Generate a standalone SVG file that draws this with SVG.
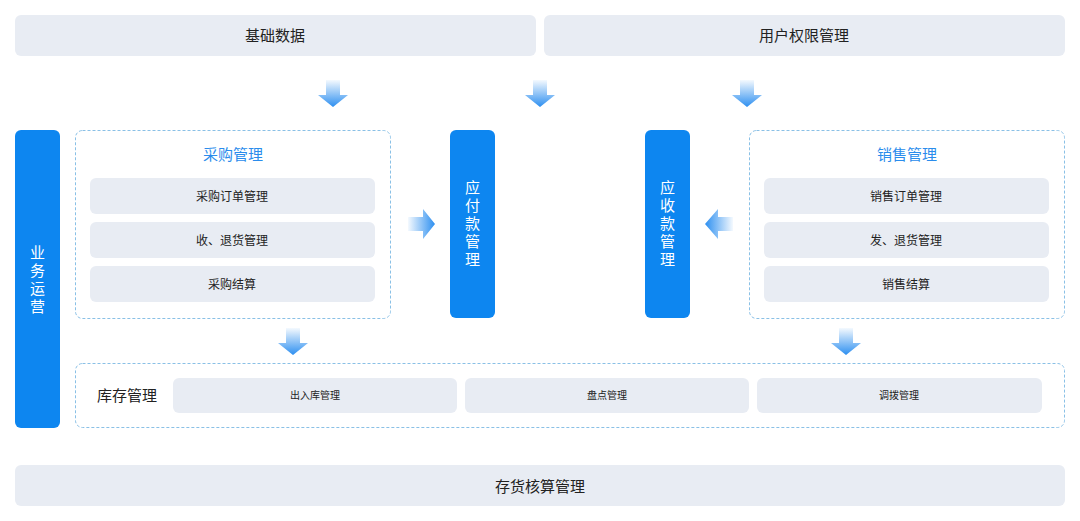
<svg xmlns="http://www.w3.org/2000/svg" width="1080" height="521" viewBox="0 0 1080 521">
<defs>
<linearGradient id="gd" x1="0" y1="0" x2="0" y2="1"><stop offset="0" stop-color="#2d8ff0" stop-opacity="0.05"/><stop offset="1" stop-color="#2d8ff0"/></linearGradient>
<linearGradient id="gr" x1="0" y1="0" x2="1" y2="0"><stop offset="0" stop-color="#2d8ff0" stop-opacity="0.05"/><stop offset="1" stop-color="#2d8ff0"/></linearGradient>
<linearGradient id="gl" x1="1" y1="0" x2="0" y2="0"><stop offset="0" stop-color="#2d8ff0" stop-opacity="0.05"/><stop offset="1" stop-color="#2d8ff0"/></linearGradient>
<path id="ad" d="M-7,-27 H7 V-12 H15 L0,0 L-15,-12 H-7 Z"/>
</defs>
<style>
text{font-family:"Noto Sans CJK SC","Liberation Sans",sans-serif;text-anchor:middle;dominant-baseline:central}
.g{fill:#e8ecf3}
.b{fill:#0d86f0}
.d{fill:#fff;stroke:#8ac0e6;stroke-width:1;stroke-dasharray:3 2}
.t15{font-size:15px;fill:#222}
.t12{font-size:12px;fill:#222}
.t10{font-size:10px;fill:#222}
.tb{font-size:15px;fill:#2a8cec}
.tw{font-size:15px;fill:#fff;writing-mode:vertical-rl;letter-spacing:3px}
</style>
<rect width="1080" height="521" fill="#fff"/>
<g id="base"><rect class="g" x="15" y="15" width="521" height="41" rx="6"/><text class="t15" x="275" y="34">基础数据</text></g>
<g id="perm"><rect class="g" x="544" y="15" width="521" height="41" rx="6"/><text class="t15" x="804" y="34">用户权限管理</text></g>
<g id="ops"><rect class="b" x="15" y="130" width="45" height="298" rx="6"/>
<text class="tw" x="37.5" y="281">业务运营</text></g>
<g id="purchase"><rect class="d" x="75.5" y="130.5" width="315" height="188" rx="7"/>
<text class="tb" x="233" y="153">采购管理</text>
<rect class="g" x="90" y="178" width="285" height="36" rx="6"/><text class="t12" x="232" y="195">采购订单管理</text>
<rect class="g" x="90" y="222" width="285" height="36" rx="6"/><text class="t12" x="232" y="239">收、退货管理</text>
<rect class="g" x="90" y="266" width="285" height="36" rx="6"/><text class="t12" x="232" y="283">采购结算</text></g>
<g id="ap"><rect class="b" x="450" y="130" width="45" height="188" rx="6"/>
<text class="tw" x="472.5" y="225">应付款管理</text></g>
<g id="ar"><rect class="b" x="645" y="130" width="45" height="188" rx="6"/>
<text class="tw" x="667.5" y="225">应收款管理</text></g>
<g id="sales"><rect class="d" x="749.5" y="130.5" width="315" height="188" rx="7"/>
<text class="tb" x="907" y="153">销售管理</text>
<rect class="g" x="764" y="178" width="285" height="36" rx="6"/><text class="t12" x="906" y="195">销售订单管理</text>
<rect class="g" x="764" y="222" width="285" height="36" rx="6"/><text class="t12" x="906" y="239">发、退货管理</text>
<rect class="g" x="764" y="266" width="285" height="36" rx="6"/><text class="t12" x="906" y="283">销售结算</text></g>
<g id="inventory"><rect class="d" x="75.5" y="363.5" width="989" height="64" rx="7"/>
<text class="t15" x="127" y="394">库存管理</text>
<rect class="g" x="173" y="378" width="284" height="35" rx="6"/><text class="t10" x="315" y="394.5">出入库管理</text>
<rect class="g" x="465" y="378" width="284" height="35" rx="6"/><text class="t10" x="607" y="394.5">盘点管理</text>
<rect class="g" x="757" y="378" width="285" height="35" rx="6"/><text class="t10" x="899" y="394.5">调拨管理</text></g>
<g id="cost"><rect class="g" x="15" y="465" width="1050" height="41" rx="6"/><text class="t15" x="540" y="485">存货核算管理</text></g>
<g id="connectors">
<use href="#ad" transform="translate(333,107)" fill="url(#gd)"/>
<use href="#ad" transform="translate(540,107)" fill="url(#gd)"/>
<use href="#ad" transform="translate(747,107)" fill="url(#gd)"/>
<use href="#ad" transform="translate(293,355)" fill="url(#gd)"/>
<use href="#ad" transform="translate(846,355)" fill="url(#gd)"/>
<path d="M408,217 H423 V209 L435,224 L423,239 V231 H408 Z" fill="url(#gr)"/>
<path d="M733,217 H718 V209 L705,224 L718,239 V231 H733 Z" fill="url(#gl)"/>
</g>
</svg>
